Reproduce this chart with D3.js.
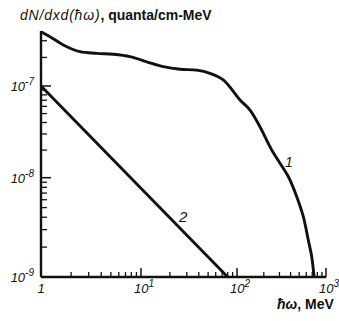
<!DOCTYPE html>
<html><head><meta charset="utf-8">
<script src="https://cdn.jsdelivr.net/npm/d3@7"></script>
<style>html,body{margin:0;padding:0;background:#fff;}svg{display:block;}</style>
</head><body>
<script>
// ---- data ----
const curve1Energy = [1, 1.23, 1.67, 2.45, 3.61, 5.28, 7.76, 11.5, 17.1, 25.5, 38, 52.4, 72, 108, 140, 181, 206, 246, 304, 377, 469, 556, 632, 691, 735];
const curve1Value  = [3.74e-7, 3.31e-7, 2.71e-7, 2.30e-7, 2.21e-7, 2.16e-7, 2.04e-7, 1.80e-7, 1.60e-7, 1.50e-7, 1.47e-7, 1.36e-7, 1.16e-7, 7.04e-8, 5.47e-8, 3.6e-8, 2.8e-8, 2.0e-8, 1.44e-8, 1.03e-8, 6.44e-9, 4.05e-9, 2.36e-9, 1.6e-9, 1.0e-9];
const curve2Energy = [1, 80];
const curve2Value  = [1e-7, 1e-9];
const xTickValues = [1, 10, 100, 1000];
const xTickLabels = [["1",""], ["10","1"], ["10","2"], ["10","3"]];
const yTickValues = [1e-9, 1e-8, 1e-7];
const yTickLabels = [["10","-9"], ["10","-8"], ["10","-7"]];
const curveLabels = ["1", "2"];

// ---- drawing ----
const W = 339, H = 321;
const svg = d3.select("body").append("svg").attr("width", W).attr("height", H);

const x = d3.scaleLog().domain([1, 10, 100, 1000]).range([41, 141, 237, 326]);
const y = d3.scaleLog().domain([1e-9, 1e-8, 1e-7, 3.8e-7]).range([277, 177.7, 86, 31]);

const ink = "#111";

// minor ticks
const xMinor = [];
[1, 10, 100].forEach(d => { for (let k = 2; k <= 9; k++) xMinor.push(d * k); });
const yMinor = [];
[1e-9, 1e-8, 1e-7].forEach(d => { for (let k = 2; k <= 9; k++) if (d * k <= 3.8e-7) yMinor.push(d * k); });

const g = svg.append("g");
g.selectAll(".xmin").data(xMinor).enter().append("line")
  .attr("x1", d => x(d)).attr("x2", d => x(d)).attr("y1", y(1e-9)).attr("y2", y(1e-9) - 5)
  .attr("stroke", ink).attr("stroke-width", 1.3);
g.selectAll(".xmaj").data([10, 100, 1000]).enter().append("line")
  .attr("x1", d => x(d)).attr("x2", d => x(d)).attr("y1", y(1e-9)).attr("y2", y(1e-9) - 9)
  .attr("stroke", ink).attr("stroke-width", 1.5);
g.selectAll(".ymin").data(yMinor).enter().append("line")
  .attr("x1", x(1)).attr("x2", x(1) + 6).attr("y1", d => y(d)).attr("y2", d => y(d))
  .attr("stroke", ink).attr("stroke-width", 1.3);
g.selectAll(".ymaj").data([1e-8, 1e-7]).enter().append("line")
  .attr("x1", x(1)).attr("x2", x(1) + 10).attr("y1", d => y(d)).attr("y2", d => y(d))
  .attr("stroke", ink).attr("stroke-width", 1.5);

// axes lines
g.append("line").attr("x1", x(1)).attr("x2", x(1000)).attr("y1", y(1e-9)).attr("y2", y(1e-9))
  .attr("stroke", ink).attr("stroke-width", 2.4);
g.append("line").attr("x1", x(1)).attr("x2", x(1)).attr("y1", y(1e-9)).attr("y2", y(3.8e-7))
  .attr("stroke", ink).attr("stroke-width", 2.4);

// tick labels
const fontNum = "'Liberation Sans', Arial, sans-serif";
xTickValues.forEach((v, i) => {
  const t = svg.append("text").attr("x", x(v) + (i === 0 ? 0 : 3)).attr("y", 293)
    .attr("text-anchor", "middle").attr("font-family", fontNum).attr("font-style", "italic")
    .attr("font-size", 13).attr("fill", ink);
  t.append("tspan").text(xTickLabels[i][0]);
  if (xTickLabels[i][1]) t.append("tspan").attr("dy", -6).attr("font-size", 10).text(xTickLabels[i][1]);
});
yTickValues.forEach((v, i) => {
  const t = svg.append("text").attr("x", 34).attr("y", y(v) + 5)
    .attr("text-anchor", "end").attr("font-family", fontNum).attr("font-style", "italic")
    .attr("font-size", 13).attr("fill", ink);
  t.append("tspan").text(yTickLabels[i][0]);
  t.append("tspan").attr("dy", -6).attr("font-size", 10).text(yTickLabels[i][1]);
});

// curves
const line = d3.line().x(d => x(d[0])).y(d => y(d[1])).curve(d3.curveCatmullRom.alpha(0.5));
const c1 = curve1Energy.map((e, i) => [e, curve1Value[i]]);
const c2 = curve2Energy.map((e, i) => [e, curve2Value[i]]);
svg.append("path").attr("d", line(c1)).attr("fill", "none").attr("stroke", ink).attr("stroke-width", 2.9);
svg.append("path").attr("d", d3.line().x(d => x(d[0])).y(d => y(d[1]))(c2)).attr("fill", "none").attr("stroke", ink).attr("stroke-width", 2.9);

// curve labels
svg.append("text").attr("x", 285).attr("y", 167).attr("font-family", fontNum).attr("font-style", "italic")
  .attr("font-size", 14).attr("fill", ink).text(curveLabels[0]);
svg.append("text").attr("x", 179).attr("y", 222).attr("font-family", fontNum).attr("font-style", "italic")
  .attr("font-size", 15).attr("fill", ink).text(curveLabels[1]);

// title
const title = svg.append("text").attr("x", 20).attr("y", 20).attr("font-family", fontNum)
  .attr("font-size", 14).attr("fill", ink);
title.append("tspan").attr("font-style", "italic").attr("letter-spacing", 0.8).text("dN/dxd(ħω)");
title.append("tspan").attr("font-weight", "bold").text(", quanta/cm-MeV");

// x axis label
const xl = svg.append("text").attr("x", 277).attr("y", 309).attr("font-family", fontNum)
  .attr("font-size", 14).attr("fill", ink);
xl.append("tspan").attr("font-style", "italic").attr("font-weight", "bold").text("ħω");
xl.append("tspan").attr("font-weight", "bold").text(", MeV");
</script>
</body></html>
